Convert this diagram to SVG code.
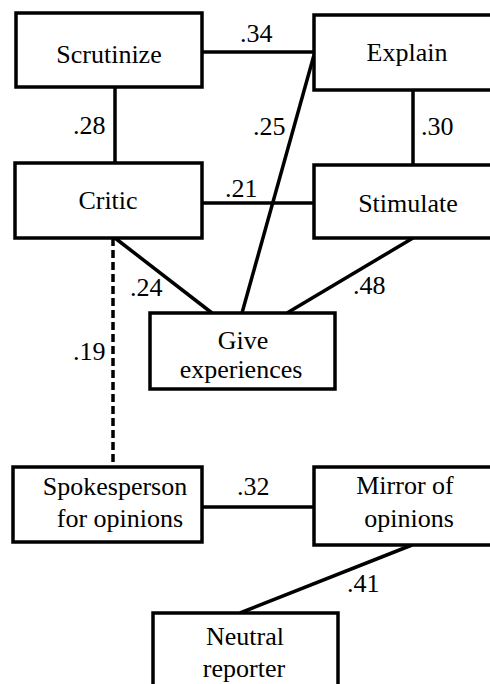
<svg xmlns="http://www.w3.org/2000/svg" width="490" height="684" viewBox="0 0 490 684">
<style>
.box{fill:#fff;stroke:#000;stroke-width:3.5}
.t{font-family:"Liberation Serif","Times New Roman",serif;font-size:26px;fill:#000;text-anchor:middle}
.l{font-family:"Liberation Serif","Times New Roman",serif;font-size:26px;fill:#000}
.c{stroke:#000;stroke-width:3.5;fill:none}
.d{stroke:#000;stroke-width:3.5;fill:none;stroke-dasharray:8 4}
</style>
<rect width="490" height="684" fill="#fff"/>
<g id="connectors">
<line class="c" x1="202" y1="52" x2="314" y2="52"/>
<line class="c" x1="115" y1="87" x2="115" y2="163"/>
<line class="c" x1="413" y1="90" x2="413" y2="165"/>
<line class="c" x1="202" y1="203" x2="314" y2="203"/>
<line class="c" x1="314" y1="55" x2="242" y2="313"/>
<line class="c" x1="115" y1="238" x2="212" y2="313"/>
<line class="c" x1="413" y1="238" x2="287" y2="313"/>
<line class="d" x1="113" y1="238" x2="113" y2="467"/>
<line class="c" x1="202" y1="507" x2="314" y2="507"/>
<line class="c" x1="412" y1="545" x2="240" y2="613"/>
<text class="l" x="240" y="42">.34</text>
<text class="l" x="73" y="134">.28</text>
<text class="l" x="253" y="135">.25</text>
<text class="l" x="421" y="135">.30</text>
<text class="l" x="225" y="197">.21</text>
<text class="l" x="130" y="296">.24</text>
<text class="l" x="353" y="294">.48</text>
<text class="l" x="73" y="360">.19</text>
<text class="l" x="237" y="495">.32</text>
<text class="l" x="347" y="592">.41</text>
</g>
<g id="scrutinize"><rect class="box" x="16" y="13" width="186" height="74"/><text class="t" x="109" y="63">Scrutinize</text></g>
<g id="explain"><rect class="box" x="314" y="15" width="186" height="75"/><text class="t" x="407" y="61">Explain</text></g>
<g id="critic"><rect class="box" x="15" y="163" width="187" height="75"/><text class="t" x="108" y="209">Critic</text></g>
<g id="stimulate"><rect class="box" x="314" y="165" width="186" height="73"/><text class="t" x="408" y="212">Stimulate</text></g>
<g id="give"><rect class="box" x="150" y="313" width="185" height="76"/><text class="t" x="243" y="349">Give</text><text class="t" x="241" y="378">experiences</text></g>
<g id="spokesperson"><rect class="box" x="13" y="467" width="189" height="75"/><text class="t" x="115" y="495">Spokesperson</text><text class="t" x="120" y="527">for opinions</text></g>
<g id="mirror"><rect class="box" x="314" y="467" width="186" height="78"/><text class="t" x="405" y="494">Mirror of</text><text class="t" x="409" y="527">opinions</text></g>
<g id="neutral"><rect class="box" x="153" y="613" width="185" height="90"/><text class="t" x="245" y="645">Neutral</text><text class="t" x="244" y="677">reporter</text></g>
</svg>
